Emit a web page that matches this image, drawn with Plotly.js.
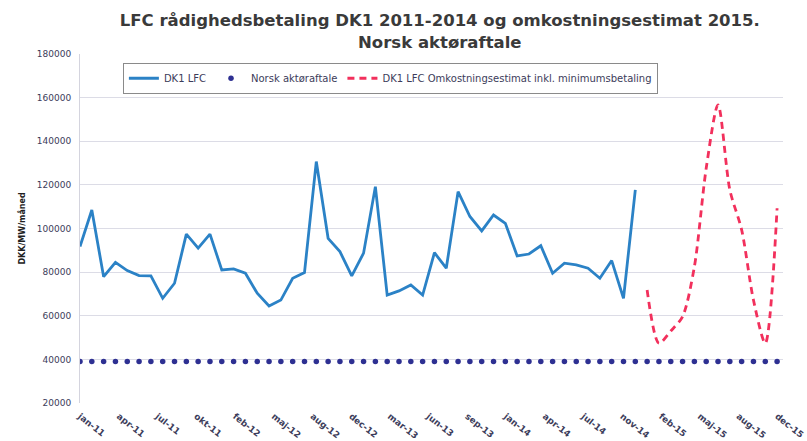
<!DOCTYPE html>
<html>
<head>
<meta charset="utf-8">
<script src="https://cdn.plot.ly/plotly-3.0.1.min.js"></script>
<style>html,body{margin:0;padding:0;background:#fff;}#chart{width:807px;height:441px;}</style>
</head>
<body>
<div id="chart"></div>
<script>
// Monthly values, jan-11 .. dec-14 (DKK/MW/måned)
const dk1Lfc = [
  91700, 108500, 77900, 84500, 80700, 78400, 78300, 68000, 74900, 97400, 91000, 97400,
  81000, 81500, 79500, 70300, 64500, 67200, 77200, 79800, 130700, 95500, 89400, 78300,
  88700, 119200, 69500, 71400, 74100, 69500, 88900, 81800, 116900, 105500, 98900, 106200,
  102400, 87400, 88300, 92100, 79500, 84100, 83300, 81800, 77200, 85300, 68000, 117700
];
// Cost estimate, jan-15 .. dec-15
const estimate2015 = [71800, 47400, 53000, 59600, 82500, 127600, 156700, 117700, 99400, 67200, 47400, 109300];
// Norsk aktøraftale, jan-11 .. dec-15
const norsk = [
  39000, 39000, 39000, 39000, 39000, 39000, 39000, 39000, 39000, 39000, 39000, 39000,
  39000, 39000, 39000, 39000, 39000, 39000, 39000, 39000, 39000, 39000, 39000, 39000,
  39000, 39000, 39000, 39000, 39000, 39000, 39000, 39000, 39000, 39000, 39000, 39000,
  39000, 39000, 39000, 39000, 39000, 39000, 39000, 39000, 39000, 39000, 39000, 39000,
  39000, 39000, 39000, 39000, 39000, 39000, 39000, 39000, 39000, 39000, 39000, 39000
];
const tickLabels = ["jan-11","apr-11","jul-11","okt-11","feb-12","maj-12","aug-12","dec-12","mar-13",
  "jun-13","sep-13","jan-14","apr-14","jul-14","nov-14","feb-15","maj-15","aug-15","dec-15"];
const seriesNames = ["DK1 LFC", "Norsk aktøraftale", "DK1 LFC Omkostningsestimat inkl. minimumsbetaling"];

const xLfc = dk1Lfc.map((_, i) => i);
const xEst = estimate2015.map((_, i) => dk1Lfc.length + i);
const xNorsk = norsk.map((_, i) => i);
const nMonths = norsk.length - 1;
const tickVals = tickLabels.map((_, k) => k * nMonths / (tickLabels.length - 1));

const traces = [
  {x: xLfc, y: dk1Lfc, name: seriesNames[0], type: 'scatter', mode: 'lines',
   line: {color: '#2b82c6', width: 2.8}},
  {x: xNorsk, y: norsk, name: seriesNames[1], type: 'scatter', mode: 'markers',
   marker: {color: '#2e3092', size: 5.5}},
  {x: xEst, y: estimate2015, name: seriesNames[2], type: 'scatter', mode: 'lines',
   line: {color: '#f2305c', width: 2.8, dash: '7px,5px', shape: 'spline', smoothing: 0.8}}
];

const layout = {
  width: 807, height: 441,
  margin: {l: 80, r: 24, t: 54, b: 38},
  paper_bgcolor: '#ffffff', plot_bgcolor: '#ffffff',
  title: {
    text: '<b>LFC rådighedsbetaling DK1 2011-2014 og omkostningsestimat 2015.<br>Norsk aktøraftale</b>',
    font: {family: '"DejaVu Sans", sans-serif', size: 16.5, color: '#3a3a3a'},
    xref: 'container', yref: 'container',
    x: 0.545, xanchor: 'center', y: 0.94, yanchor: 'middle'
  },
  xaxis: {
    range: [0, 59.5], tickmode: 'array', tickvals: tickVals, ticktext: tickLabels,
    tickangle: 38, showgrid: false, zeroline: false, showline: false,
    ticks: 'outside', ticklen: 4, tickcolor: 'rgba(0,0,0,0)',
    tickfont: {family: '"DejaVu Sans", sans-serif', size: 8.8, color: '#3c3c5a', weight: 'bold'}
  },
  yaxis: {
    range: [20000, 180000], dtick: 20000, tick0: 20000, tickformat: 'd',
    gridcolor: '#dcdce6', gridwidth: 1, zeroline: false,
    showline: true, linecolor: '#d4d4de', linewidth: 1,
    ticks: 'outside', ticklen: 6, tickcolor: 'rgba(0,0,0,0)',
    tickfont: {family: '"DejaVu Sans", sans-serif', size: 9, color: '#3c3c5a'},
    title: {text: '<b>DKK/MW/måned</b>', font: {family: '"DejaVu Sans", sans-serif', size: 8, color: '#202020'}, standoff: 10}
  },
  legend: {
    orientation: 'h', x: 0.061, xanchor: 'left', y: 0.975, yanchor: 'top',
    bordercolor: '#8a8a8a', borderwidth: 1, bgcolor: '#ffffff',
    font: {family: '"DejaVu Sans", sans-serif', size: 10, color: '#3c3c5a'},
    itemwidth: 30, tracegroupgap: 0
  },
  showlegend: true
};

Plotly.newPlot('chart', traces, layout, {displayModeBar: false, staticPlot: true});
</script>
</body>
</html>
